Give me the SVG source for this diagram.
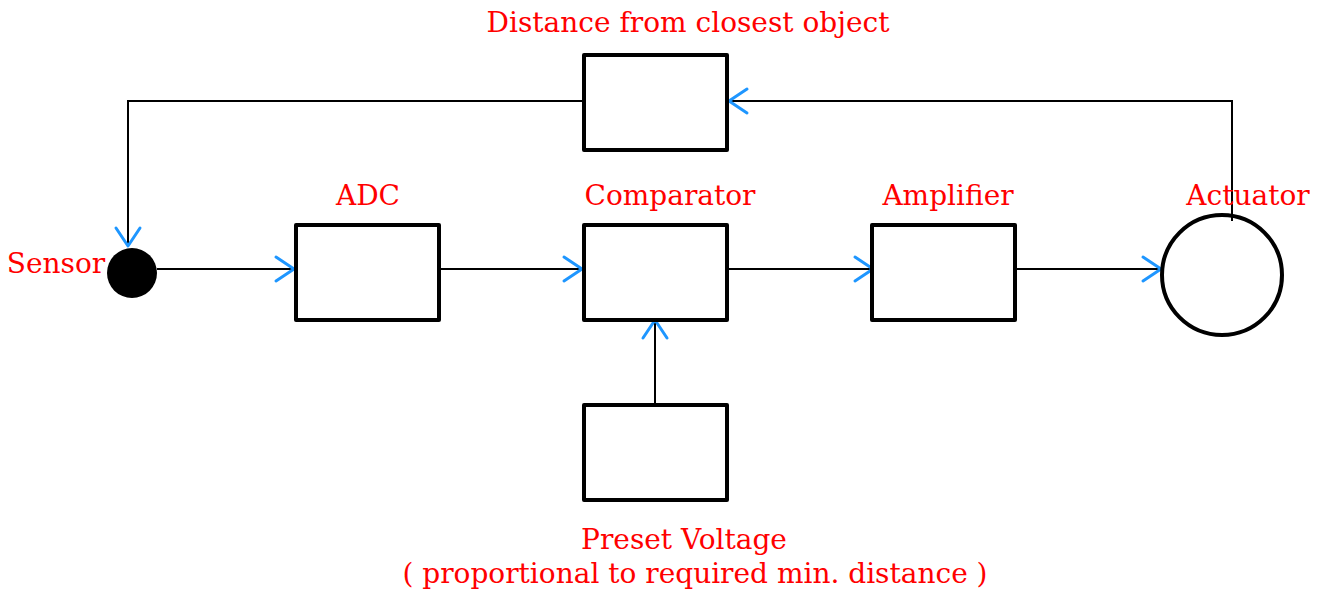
<svg xmlns="http://www.w3.org/2000/svg" width="1322" height="590" viewBox="0 0 1322 590">
<style>
.box{fill:#fff;stroke:#000;stroke-width:4;stroke-linejoin:round}
.ln{fill:none;stroke:#000;stroke-width:2}
.lbl{font-family:"DejaVu Serif","Liberation Serif",serif;font-size:28px;fill:#ff0000;text-anchor:middle}
</style>
<defs>
<marker id="ah" markerUnits="userSpaceOnUse" markerWidth="30" markerHeight="30" viewBox="-24 -15 28 30" refX="0" refY="0" orient="auto" overflow="visible">
<path d="M-18,-12 L0,0 L-18,12" fill="none" stroke="#1e96ff" stroke-width="3" stroke-linecap="round" stroke-linejoin="round"/>
</marker>
</defs>
<rect width="1322" height="590" fill="#fff"/>
<g id="connectors">
<path class="ln" d="M157,269 H294" marker-end="url(#ah)"/>
<path class="ln" d="M440,269 H582" marker-end="url(#ah)"/>
<path class="ln" d="M728,269 H873" marker-end="url(#ah)"/>
<path class="ln" d="M1016,269 H1161" marker-end="url(#ah)"/>
<path class="ln" d="M655,407 V320 V315" marker-mid="url(#ah)"/>
<path class="ln" d="M1232,221 V101 H729" marker-end="url(#ah)"/>
<path class="ln" d="M583,101 H128 V246" marker-end="url(#ah)"/>
</g>
<g id="sensor">
<circle cx="132" cy="273" r="25" fill="#000"/>
<text class="lbl" x="56" y="273">Sensor</text>
</g>
<g id="adc">
<rect class="box" x="296" y="225" width="143" height="95"/>
<text class="lbl" x="368" y="205">ADC</text>
</g>
<g id="comparator">
<rect class="box" x="584" y="225" width="143" height="95"/>
<text class="lbl" x="670" y="205">Comparator</text>
</g>
<g id="amplifier">
<rect class="box" x="872" y="225" width="143" height="95"/>
<text class="lbl" x="948" y="205">Amplifier</text>
</g>
<g id="actuator">
<circle cx="1222" cy="275" r="60" fill="none" stroke="#000" stroke-width="4"/>
<text class="lbl" x="1248" y="205">Actuator</text>
</g>
<g id="distance">
<rect class="box" x="584" y="55" width="143" height="95"/>
<text class="lbl" x="688" y="32">Distance from closest object</text>
</g>
<g id="preset">
<rect class="box" x="584" y="405" width="143" height="95"/>
<text class="lbl" x="684" y="549">Preset Voltage</text>
<text class="lbl" x="695" y="583">( proportional to required min. distance )</text>
</g>
</svg>
